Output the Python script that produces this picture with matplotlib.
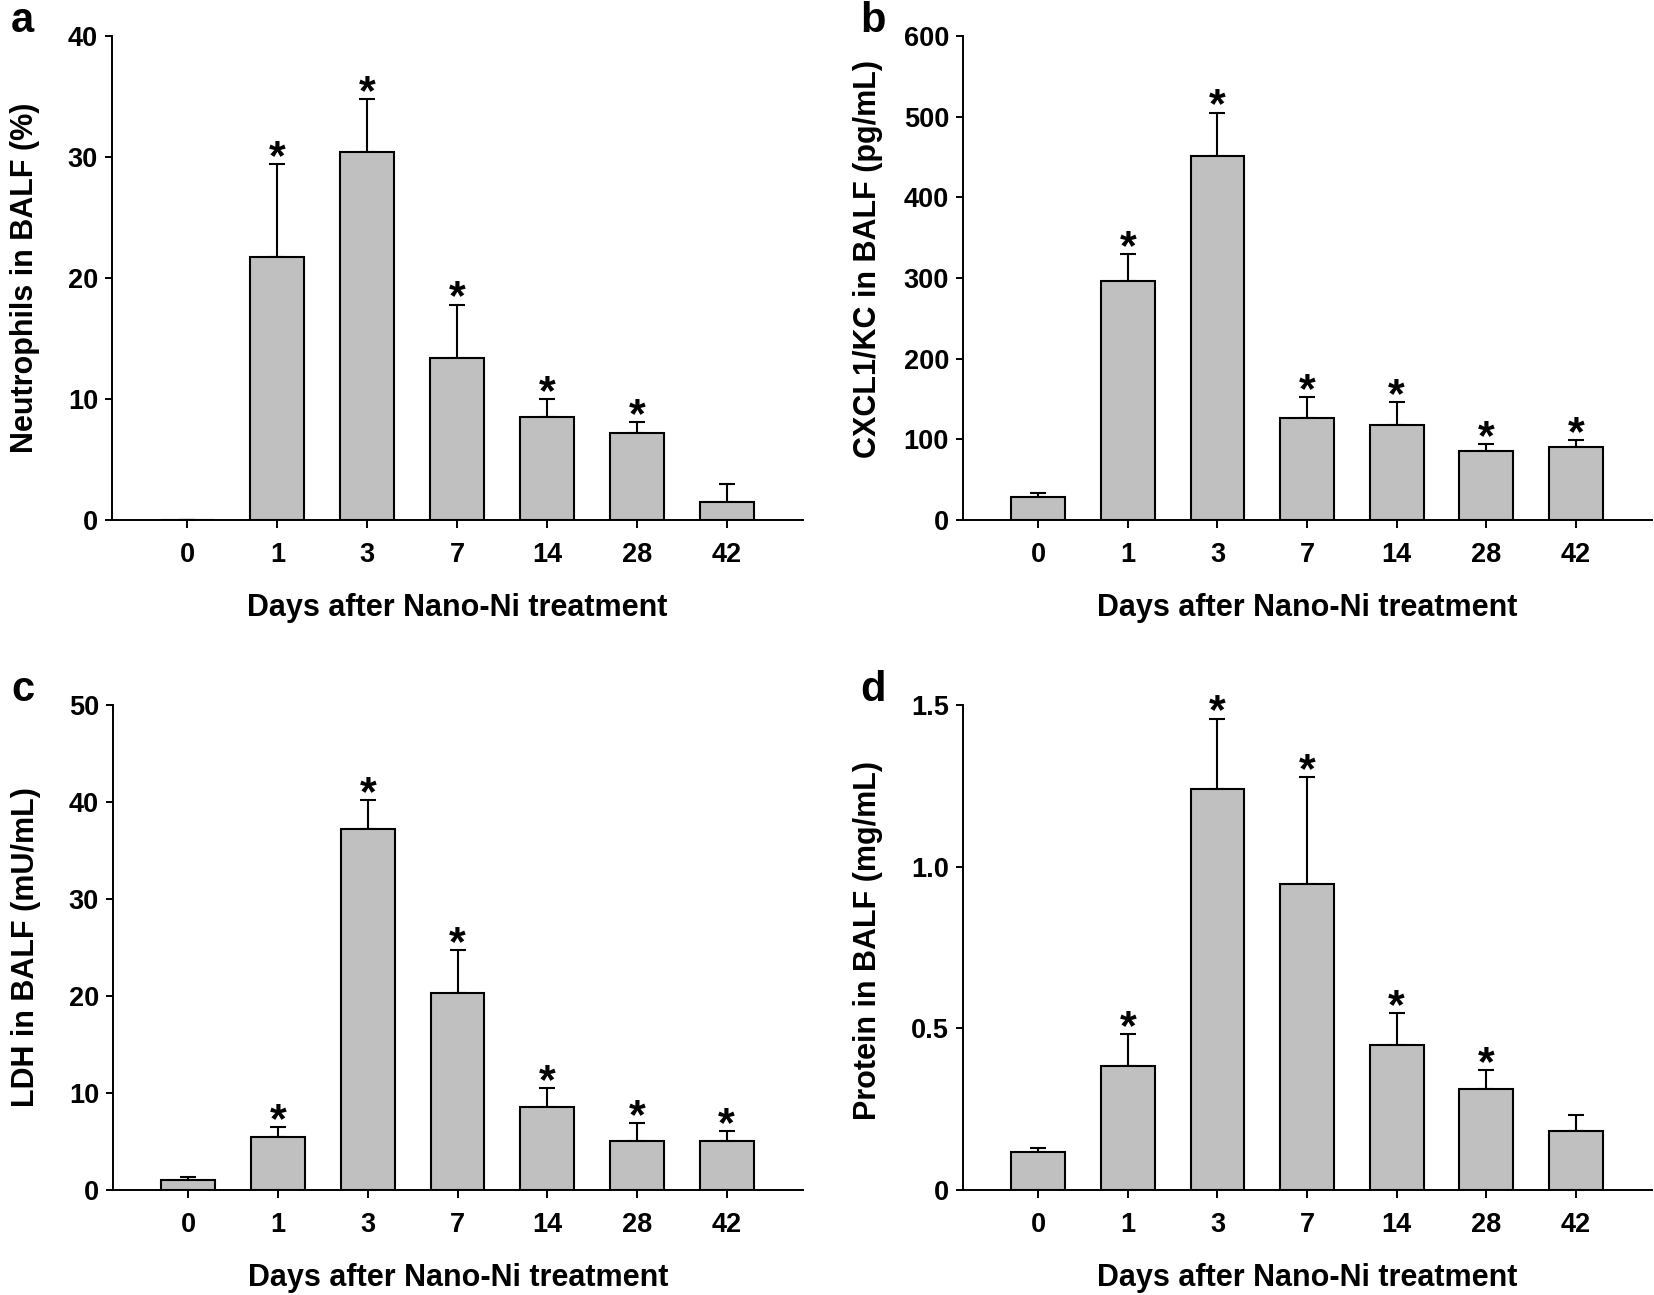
import numpy as np
import matplotlib.pyplot as plt
from matplotlib.ticker import FixedLocator, FixedFormatter

days = ["0", "1", "3", "7", "14", "28", "42"]

neutro = [0, 21.7, 30.4, 13.4, 8.5, 7.2, 1.5]
neutro_err = [0, 7.7, 4.4, 4.4, 1.5, 0.9, 1.5]
neutro_sig = [False, True, True, True, True, True, False]

cxcl1 = [29, 296, 451, 126, 118, 85, 90]
cxcl1_err = [5, 34, 54, 26, 28, 9, 9]
cxcl1_sig = [False, True, True, True, True, True, True]

ldh = [1.06, 5.45, 37.2, 20.3, 8.6, 5.1, 5.1]
ldh_err = [0.3, 1.05, 3.0, 4.4, 1.9, 1.8, 1.0]
ldh_sig = [False, True, True, True, True, True, True]

protein = [0.116, 0.383, 1.241, 0.945, 0.449, 0.313, 0.182]
protein_err = [0.015, 0.099, 0.217, 0.331, 0.099, 0.057, 0.051]
protein_sig = [False, True, True, True, True, True, False]

panels = [
    ("a", neutro, neutro_err, neutro_sig, "Neutrophils in BALF (%)",
     [0, 10, 20, 30, 40], ["0", "10", "20", "30", "40"], 40),
    ("b", cxcl1, cxcl1_err, cxcl1_sig, "CXCL1/KC in BALF (pg/mL)",
     [0, 100, 200, 300, 400, 500, 600], ["0", "100", "200", "300", "400", "500", "600"], 600),
    ("c", ldh, ldh_err, ldh_sig, "LDH in BALF (mU/mL)",
     [0, 10, 20, 30, 40, 50], ["0", "10", "20", "30", "40", "50"], 50),
    ("d", protein, protein_err, protein_sig, "Protein in BALF (mg/mL)",
     [0, 0.5, 1.0, 1.5], ["0", "0.5", "1.0", "1.5"], 1.5),
]

positions = [
    [0.0677, 0.5985, 0.4178, 0.3737],
    [0.5822, 0.5985, 0.4166, 0.3737],
    [0.0683, 0.0811, 0.4172, 0.3745],
    [0.5822, 0.0811, 0.4166, 0.3745],
]
# ylabel placement per panel: (labelpad, vertical centre in axes fraction)
ylab_pos = [(20, 0.50), (15, 0.54), (20, 0.50), (20, 0.515)]

arial = ['Liberation Sans', 'DejaVu Sans']

fig = plt.figure(figsize=(16.54, 12.95), dpi=100)

for (letter, vals, errs, sig, ylab, yt, ytl, ymax), pos, (lpad, ly) in zip(panels, positions, ylab_pos):
    ax = fig.add_axes(pos)
    x = np.arange(len(days))
    ax.bar(x, vals, width=0.6, color='#c0c0c0', edgecolor='black', linewidth=1.5, zorder=2)
    ax.errorbar(x, vals, yerr=[np.zeros(len(vals)), errs], fmt='none', ecolor='black',
                elinewidth=1.5, capsize=6, capthick=1.5, zorder=1)
    for xi, v, e, s in zip(x, vals, errs, sig):
        if s:
            ax.annotate("*", (xi, v + e), xytext=(0, -3.5), textcoords='offset points',
                        ha='center', va='baseline', fontsize=31, fontweight='bold', family=arial)
    ax.set_xlim(-0.84, 6.85)
    ax.set_ylim(0, ymax)
    ax.spines['top'].set_visible(False)
    ax.spines['right'].set_visible(False)
    for sp in ['left', 'bottom']:
        ax.spines[sp].set_linewidth(1.4)
    ax.yaxis.set_major_locator(FixedLocator(yt))
    ax.yaxis.set_major_formatter(FixedFormatter(ytl))
    ax.set_xticks(x)
    ax.set_xticklabels(days)
    ax.tick_params(axis='y', direction='out', length=5, width=1.4, pad=5)
    ax.tick_params(axis='x', direction='out', length=5.8, width=1.4, pad=10)
    for lab in ax.get_xticklabels() + ax.get_yticklabels():
        lab.set_fontfamily(arial)
        lab.set_fontweight('bold')
        lab.set_fontsize(19.5)
    ax.set_xlabel("Days after Nano-Ni treatment", family=arial, fontweight='bold',
                  fontsize=22, labelpad=18)
    ax.set_ylabel(ylab, family=arial, fontweight='bold', fontsize=22, labelpad=lpad, y=ly)
    ax.text(-0.13, 1.03, letter, transform=ax.transAxes, family=arial, fontweight='bold',
            fontsize=30, ha='center', va='center')

fig.savefig("out.png", dpi=100)
